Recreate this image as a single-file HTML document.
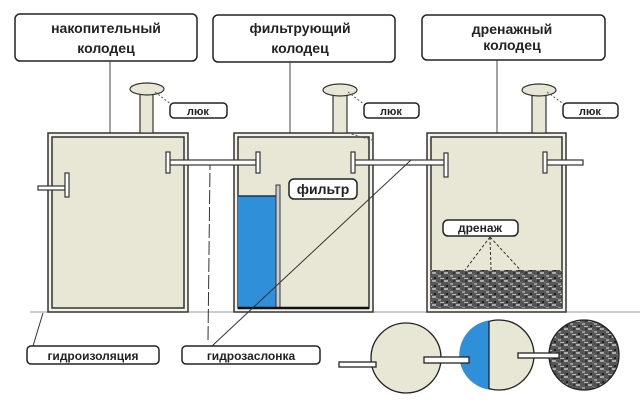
<!DOCTYPE html>
<html><head><meta charset="utf-8"><style>
html,body{margin:0;padding:0;background:#fff;width:640px;height:404px;overflow:hidden}
text{font-family:"Liberation Sans","DejaVu Sans",sans-serif;font-weight:bold;fill:#222}
</style></head><body>
<svg width="640" height="404" viewBox="0 0 640 404" xmlns="http://www.w3.org/2000/svg">
<defs>
<pattern id="gr" width="12" height="8" patternUnits="userSpaceOnUse">
<rect width="12" height="8" fill="#555"/>
<rect x="0" y="0" width="4" height="2" fill="#aaa"/>
<rect x="6" y="3" width="3" height="2" fill="#999"/>
<rect x="2" y="5" width="2" height="2" fill="#222"/>
<rect x="8" y="6" width="4" height="1" fill="#bbb"/>
<rect x="9" y="0" width="2" height="2" fill="#333"/>
<rect x="4" y="2" width="2" height="1" fill="#777"/>
</pattern>
</defs>
<g stroke="#222" stroke-width="1.5" fill="#fff">
<rect x="15" y="14" width="182" height="47" rx="5"/>
<rect x="213" y="15" width="182" height="47" rx="5"/>
<rect x="422" y="15" width="183" height="45" rx="5"/>
</g>
<text x="106" y="33" font-size="14" text-anchor="middle">накопительный</text>
<text x="106" y="53" font-size="14" text-anchor="middle">колодец</text>
<text x="300" y="33" font-size="14" text-anchor="middle">фильтрующий</text>
<text x="300" y="53" font-size="14" text-anchor="middle">колодец</text>
<text x="512" y="34" font-size="14" text-anchor="middle">дренажный</text>
<text x="512" y="50" font-size="14" text-anchor="middle">колодец</text>
<g stroke="#444" stroke-width="1">
<line x1="110" y1="61" x2="110" y2="168"/>
<line x1="290" y1="62" x2="290" y2="166"/>
<line x1="497" y1="60" x2="497" y2="160"/>
</g>
<!-- ground line -->
<line x1="30" y1="312" x2="640" y2="312" stroke="#999" stroke-width="1"/>
<!-- tanks -->
<g stroke="#333" stroke-width="1.5" fill="#e8e6d4">
<rect x="48" y="133" width="140" height="179" fill="#f4f3ea"/>
<rect x="52" y="137" width="132" height="171"/>
<rect x="234" y="133" width="139" height="179" fill="#f4f3ea"/>
<rect x="238" y="137" width="131" height="171"/>
<rect x="427" y="133" width="139" height="179" fill="#f4f3ea"/>
<rect x="431" y="137" width="131" height="171"/>
</g>
<!-- filter -->
<rect x="238" y="196" width="38" height="112" fill="#2f8fd8"/>
<line x1="238" y1="196" x2="276" y2="196" stroke="#234" stroke-width="1.5"/>
<rect x="276" y="185" width="4" height="123" fill="#ccc" stroke="#333" stroke-width="1"/>
<line x1="238" y1="308" x2="369" y2="308" stroke="#111" stroke-width="2.5"/>
<!-- gravel -->
<rect x="431" y="270" width="131" height="38" fill="url(#gr)"/>
<!-- hatches -->
<g stroke="#333" stroke-width="1.2" fill="#e8e6d4">
<rect x="140" y="94" width="13" height="39"/>
<ellipse cx="147" cy="89" rx="17" ry="6"/>
<rect x="333" y="94" width="14" height="39"/>
<ellipse cx="340" cy="90" rx="17" ry="6"/>
<rect x="532" y="94" width="14" height="39"/>
<ellipse cx="539" cy="90" rx="17" ry="6"/>
</g>
<g stroke="#555" stroke-width="1" stroke-dasharray="2,2" fill="none">
<line x1="155" y1="92" x2="172" y2="105"/>
<line x1="348" y1="92" x2="365" y2="105"/>
<line x1="547" y1="92" x2="565" y2="105"/>
<line x1="348" y1="133" x2="372" y2="140"/>
</g>
<g stroke="#222" stroke-width="1.5" fill="#fff">
<rect x="170" y="103" width="57" height="15" rx="4"/>
<rect x="364" y="103" width="55" height="15" rx="4"/>
<rect x="563" y="103" width="55" height="15" rx="4"/>
</g>
<text x="198" y="115" font-size="11" text-anchor="middle">люк</text>
<text x="391" y="115" font-size="11" text-anchor="middle">люк</text>
<text x="590" y="115" font-size="11" text-anchor="middle">люк</text>
<!-- pipes -->
<g stroke="#333" stroke-width="1.2" fill="#fff">
<rect x="170" y="160" width="86" height="5"/>
<rect x="354" y="160" width="90" height="5"/>
<rect x="547" y="160" width="36" height="5"/>
<rect x="38" y="186" width="27" height="4"/>
<rect x="166" y="152" width="4" height="21"/>
<rect x="256" y="152" width="4" height="21"/>
<rect x="351" y="152" width="4" height="21"/>
<rect x="444" y="153" width="4" height="24"/>
<rect x="543" y="152" width="4" height="21"/>
<rect x="65" y="173" width="4" height="24"/>
</g>
<!-- labels in tanks -->
<g stroke="#222" stroke-width="1.5" fill="#fff">
<rect x="289" y="179" width="68" height="20" rx="5"/>
<rect x="443" y="220" width="75" height="16" rx="5"/>
</g>
<text x="323" y="194" font-size="14" text-anchor="middle">фильтр</text>
<text x="480" y="232" font-size="12" text-anchor="middle">дренаж</text>
<g stroke="#333" stroke-width="1" stroke-dasharray="3,2">
<line x1="490" y1="237" x2="465" y2="270"/>
<line x1="490" y1="237" x2="491" y2="270"/>
<line x1="490" y1="237" x2="525" y2="275"/>
</g>
<!-- leader lines -->
<g stroke="#333" stroke-width="1" fill="none">
<line x1="212" y1="346" x2="411" y2="160"/>
<line x1="208" y1="340" x2="210" y2="165" stroke-dasharray="14,3"/>
<line x1="33" y1="346" x2="43" y2="313"/>
</g>
<g stroke="#222" stroke-width="1.5" fill="#fff">
<rect x="27" y="346" width="132" height="18" rx="4"/>
<rect x="182" y="346" width="138" height="18" rx="4"/>
</g>
<text x="93" y="360" font-size="12" text-anchor="middle">гидроизоляция</text>
<text x="251" y="360" font-size="12" text-anchor="middle">гидрозаслонка</text>
<!-- circles plan -->
<g stroke="#222" stroke-width="1.3">
<circle cx="406" cy="358" r="35" fill="#e8e6d4"/>
<circle cx="499" cy="355" r="35" fill="#e8e6d4"/>
<path d="M489 320.4 A35 35 0 0 0 489 389.6 Z" fill="#2f8fd8" stroke="none"/>
<line x1="489" y1="321" x2="489" y2="389"/>
<circle cx="584" cy="355" r="35" fill="url(#gr)"/>
<rect x="339" y="362" width="37" height="5" fill="#fff"/>
<rect x="424" y="357" width="45" height="6" fill="#fff"/>
<rect x="518" y="353" width="41" height="5" fill="#fff"/>
</g>
</svg>
</body></html>
